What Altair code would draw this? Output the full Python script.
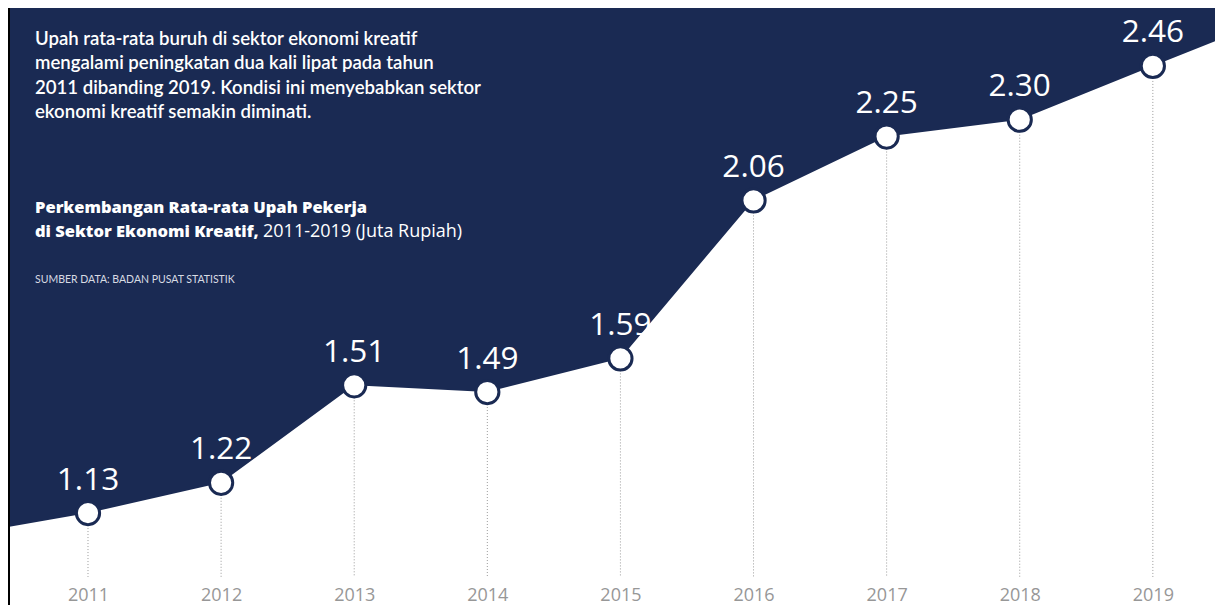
import altair as alt
import pandas as pd

# ---- data ----
years = [2011, 2012, 2013, 2014, 2015, 2016, 2017, 2018, 2019]
wages = [1.13, 1.22, 1.51, 1.49, 1.59, 2.06, 2.25, 2.30, 2.46]
labels = ["1.13", "1.22", "1.51", "1.49", "1.59", "2.06", "2.25", "2.30", "2.46"]
# where the line meets the left and right edges of the picture
edge_years = [2010.399, 2019.467]
edge_values = [1.0885, 2.5335]

NAVY = "#1a2a53"
X_DOMAIN = [2010.399, 2019.467]
Y_DOMAIN = [0.8565, 2.6323]
Y_TOP = Y_DOMAIN[1]
Y_RULE_END = 0.94

pts = pd.DataFrame({"year": years, "wage": wages, "label": labels})
area_df = pd.DataFrame({
    "year": [edge_years[0]] + years + [edge_years[1]],
    "wage": [edge_values[0]] + wages + [edge_values[1]],
})

xs = alt.Scale(domain=X_DOMAIN, nice=False, zero=False)
ys = alt.Scale(domain=Y_DOMAIN, nice=False, zero=False)

x_axis = alt.Axis(
    values=years, format="d", title=None, orient="bottom", offset=-24,
    domain=False, ticks=False, grid=False, labelPadding=5,
    labelFont="Open Sans", labelFontSize=18, labelColor="#979797",
)

area = alt.Chart(area_df).mark_area(color=NAVY, opacity=1, interpolate="linear").encode(
    x=alt.X("year:Q", scale=xs, axis=x_axis),
    y=alt.Y("wage:Q", scale=ys, axis=None),
    y2=alt.datum(Y_TOP),
)

rules = alt.Chart(pts).mark_rule(color="#9a9a9a", strokeDash=[1, 2], strokeWidth=1).encode(
    x=alt.X("year:Q", scale=xs),
    y=alt.Y("wage:Q", scale=ys),
    y2=alt.datum(Y_RULE_END),
)

dots = alt.Chart(pts).mark_point(
    shape="circle", filled=True, fill="white", stroke=NAVY, strokeWidth=3,
    size=540, opacity=1,
).encode(
    x=alt.X("year:Q", scale=xs),
    y=alt.Y("wage:Q", scale=ys),
)

value_text = alt.Chart(pts).mark_text(
    font="Open Sans", fontSize=31.5, fontWeight=500, color="white",
    baseline="alphabetic", align="center", dy=-23.5,
).encode(
    x=alt.X("year:Q", scale=xs),
    y=alt.Y("wage:Q", scale=ys),
    text="label:N",
)

# ---- annotation text ----
para_lines = [
    "Upah rata-rata buruh di sektor ekonomi kreatif",
    "mengalami peningkatan dua kali lipat pada tahun",
    "2011 dibanding 2019. Kondisi ini menyebabkan sektor",
    "ekonomi kreatif semakin diminati.",
]
sub_bold = ["Perkembangan Rata-rata Upah Pekerja", "di Sektor Ekonomi Kreatif,"]
sub_regular = "2011-2019 (Juta Rupiah)"
source = "SUMBER DATA: BADAN PUSAT STATISTIK"

base_txt = alt.Chart(pd.DataFrame({"a": [0]}))

para = base_txt.mark_text(
    text=para_lines, font="Lato", fontSize=18.6, fontWeight=600, color="white",
    align="left", baseline="alphabetic", lineHeight=24.3,
).encode(x=alt.value(27), y=alt.value(37))

sub1 = base_txt.mark_text(
    text=sub_bold, font="Open Sans", fontSize=16.5, fontWeight=800, color="white",
    align="left", baseline="alphabetic", lineHeight=24,
).encode(x=alt.value(27), y=alt.value(205))

sub2 = base_txt.mark_text(
    text=sub_regular, font="Open Sans", fontSize=18, fontWeight=400, color="white",
    align="left", baseline="alphabetic",
).encode(x=alt.value(255), y=alt.value(229))

src = base_txt.mark_text(
    text=source, font="Lato", fontSize=10.5, fontWeight=400, color="#d8dbe3",
    align="left", baseline="alphabetic",
).encode(x=alt.value(27), y=alt.value(275))

edge = base_txt.mark_rule(color="black", strokeWidth=2).encode(
    x=alt.value(1), y=alt.value(0), y2=alt.value(597),
)

chart = alt.layer(area, rules, dots, value_text, para, sub1, sub2, src, edge).properties(
    width=1207, height=597,
    autosize=alt.AutoSizeParams(type="none"),
    padding=0,
).configure_view(stroke=None).configure(background="white")

chart.save("out.html", embed_options={"renderer": "svg", "actions": False})
